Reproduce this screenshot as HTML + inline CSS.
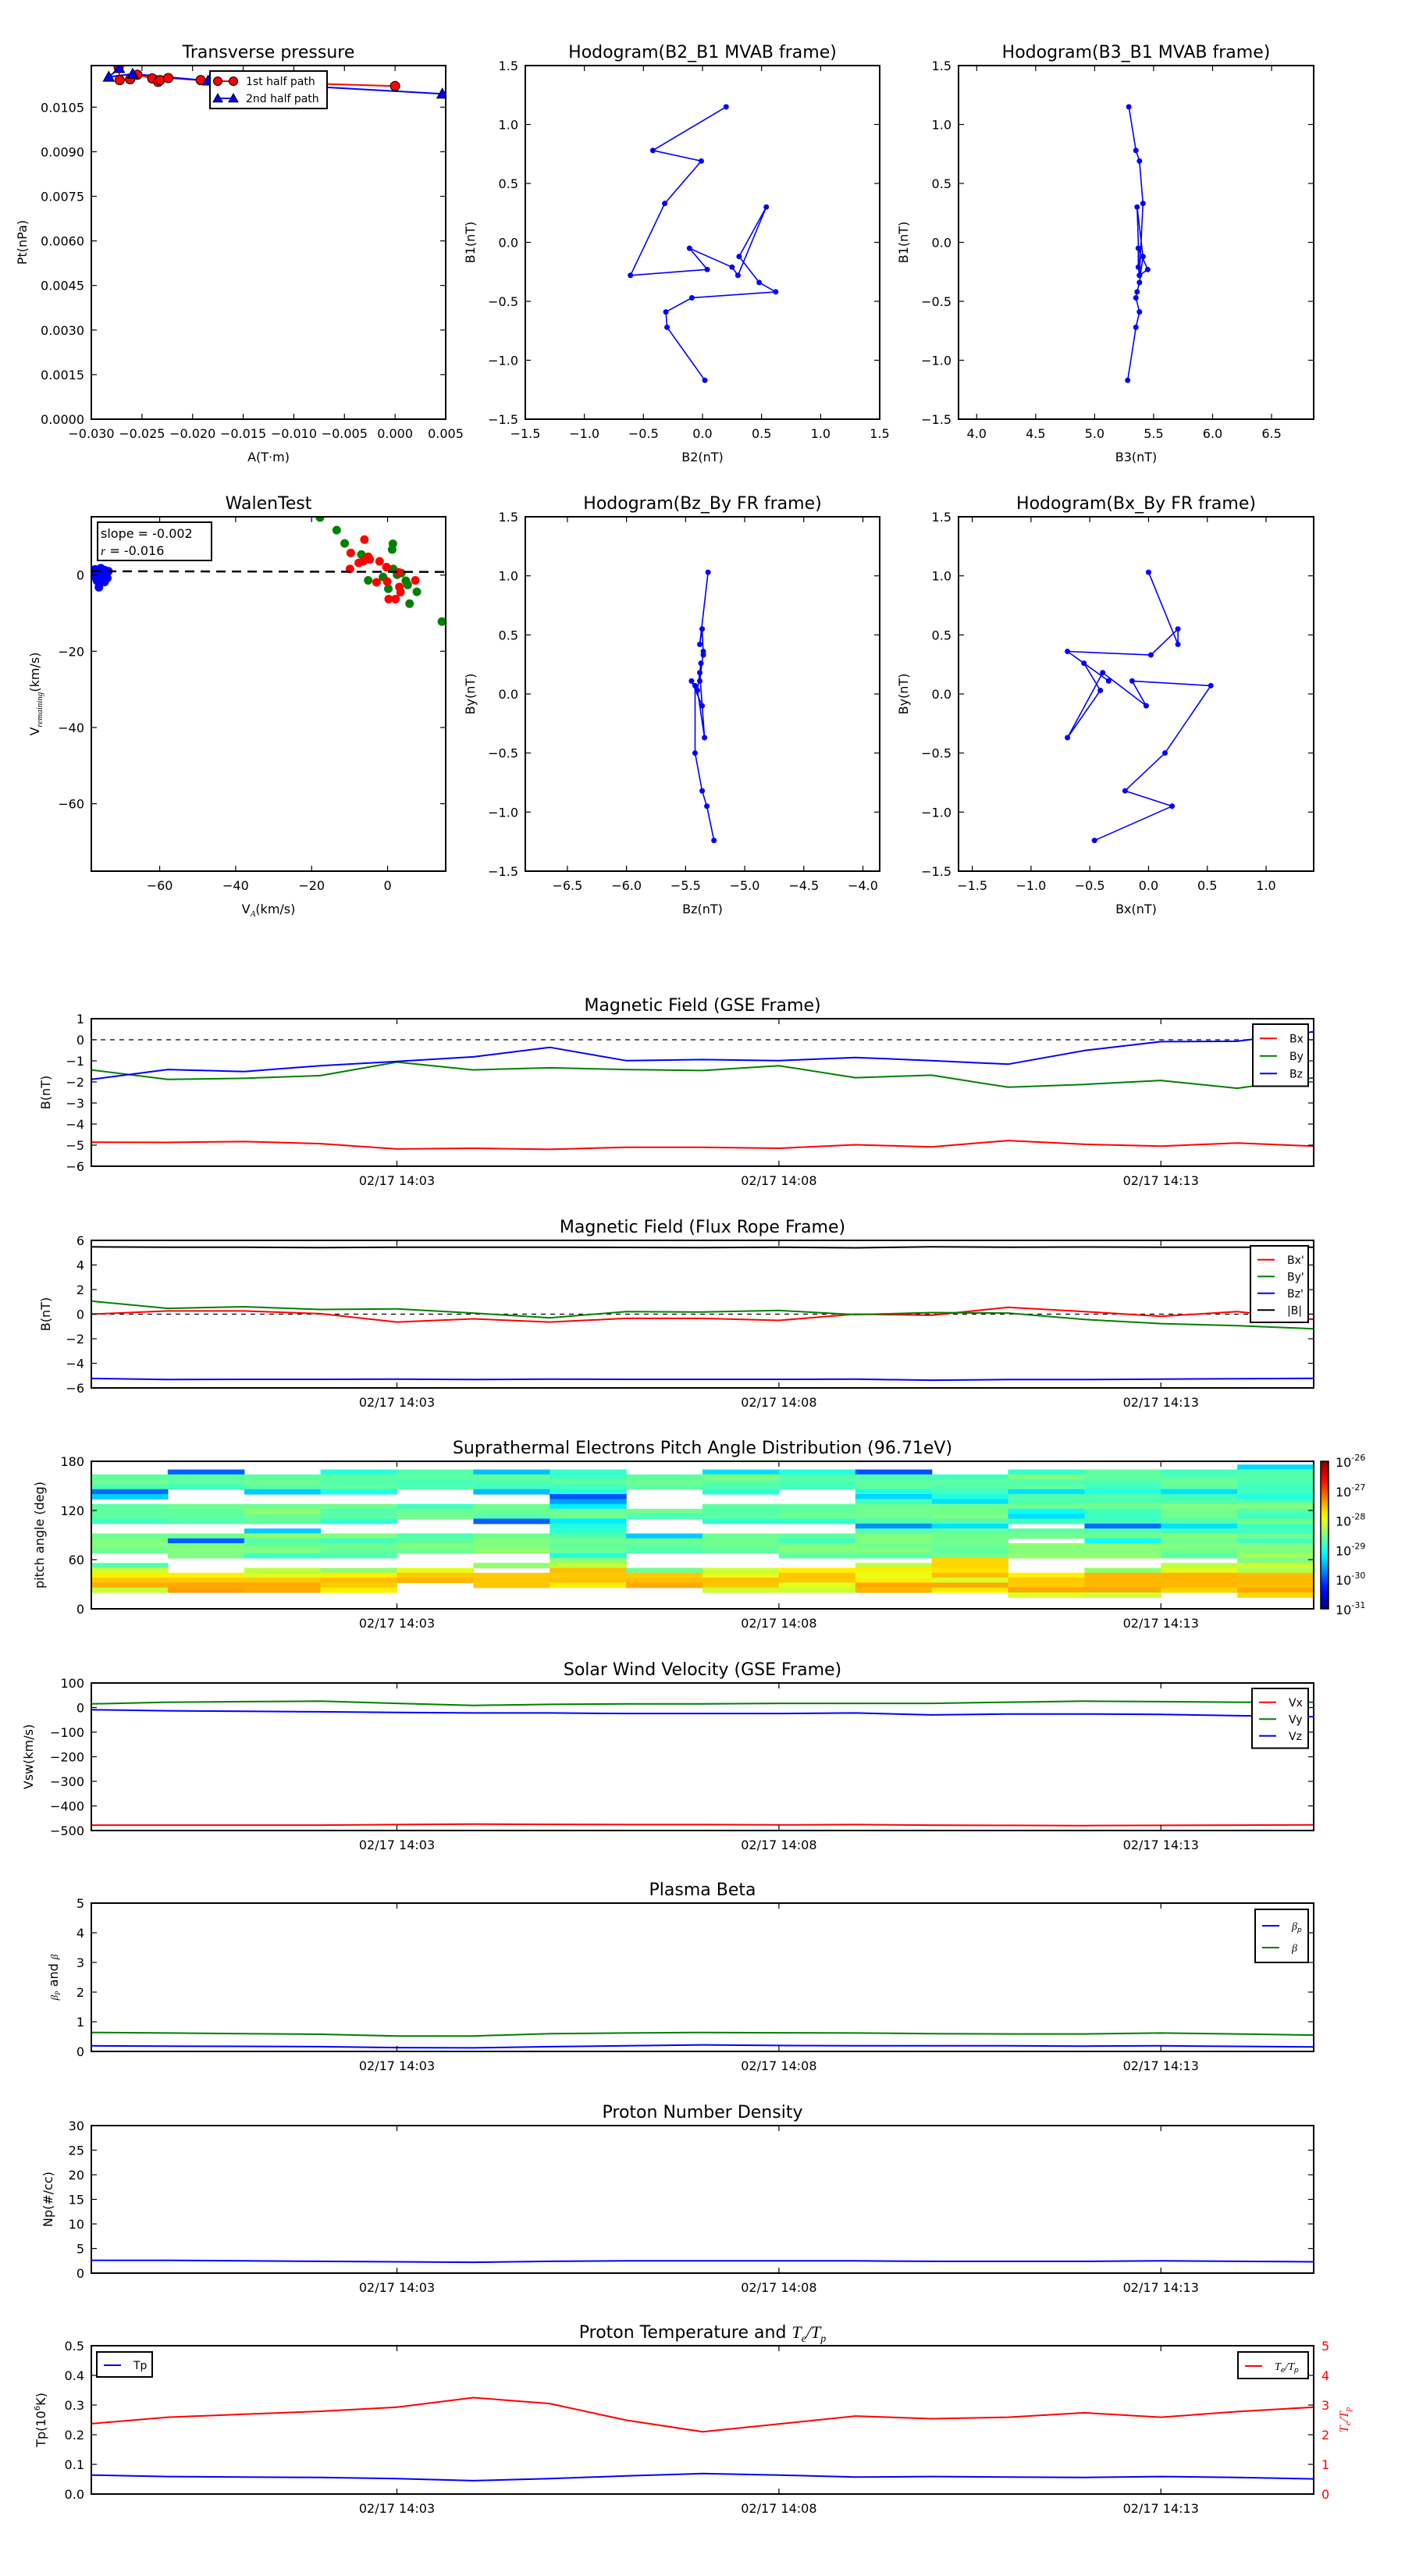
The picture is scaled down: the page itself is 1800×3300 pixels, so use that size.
<!DOCTYPE html>
<html><head><meta charset="utf-8"><title>Flux rope analysis</title>
<style>html,body{margin:0;padding:0;background:#fff}svg{display:block}</style></head>
<body>
<svg id="fig" xmlns="http://www.w3.org/2000/svg" width="1800" height="3300" viewBox="0 0 1800 3300" font-family="'DejaVu Sans', sans-serif">
<rect width="1800" height="3300" fill="#fff"/>
</svg>
<script>
// ---------- data ----------
const ptA1 = [-0.0273,-0.0272,-0.02617,-0.02545,-0.02399,-0.0234,-0.0232,-0.0224,-0.0192,0.0];
const ptP1 = [0.01185,0.01141,0.01144,0.01159,0.01147,0.01135,0.01141,0.01148,0.01141,0.01121];
const ptA2 = [-0.02725,-0.02828,-0.02591,-0.01846,0.00467];
const ptP2 = [0.01181,0.01152,0.01162,0.01139,0.01095];
const pXTicks = [-0.030,-0.025,-0.020,-0.015,-0.010,-0.005,0.000,0.005];
const pYTicks = [0.0000,0.0015,0.0030,0.0045,0.0060,0.0075,0.0090,0.0105];

const hB1 = [1.15,0.78,0.69,0.33,-0.28,-0.23,-0.05,-0.21,-0.28,0.3,-0.12,-0.34,-0.42,-0.47,-0.59,-0.72,-1.17];
const hB2 = [0.2,-0.42,-0.01,-0.32,-0.61,0.04,-0.11,0.25,0.3,0.54,0.31,0.48,0.62,-0.09,-0.31,-0.3,0.02];
const hB3 = [5.29,5.35,5.38,5.41,5.38,5.45,5.37,5.37,5.38,5.36,5.41,5.38,5.36,5.35,5.38,5.35,5.28];
const frBy = [1.03,0.42,0.55,0.33,0.36,0.11,0.26,0.03,-0.37,0.18,-0.1,0.11,0.07,-0.5,-0.82,-0.95,-1.24];
const frBx = [0,0.25,0.25,0.02,-0.69,-0.34,-0.55,-0.41,-0.69,-0.39,-0.02,-0.14,0.53,0.14,-0.2,0.2,-0.46];
const frBz = [-5.31,-5.38,-5.36,-5.35,-5.35,-5.38,-5.37,-5.40,-5.34,-5.38,-5.36,-5.45,-5.42,-5.42,-5.36,-5.32,-5.26];

const walRedX = [-9.7,-9.9,-7.6,-6.1,-6.4,-5.1,-4.7,-2.9,-2.1,-0.3,-0.1,0.3,2.1,2.9,3.1,3.4,7.3];
const walRedY = [5.8,1.6,3.2,9.3,3.6,4.8,4.1,-1.9,3.6,2.1,-1.7,-6.3,-6.3,0.7,-3.1,-4.5,-1.4];
const walGrnX = [-17.8,-13.4,-11.3,-6.9,-5.1,-1.2,0.2,1.2,1.4,1.5,2.5,3.6,4.8,5.3,5.8,7.7,14.3];
const walGrnY = [15.1,11.8,8.3,5.4,-1.4,-0.5,-3.6,6.7,8.2,1.6,0.1,0.5,-1.5,-2.6,-7.5,-4.4,-12.2];
const walBluX = [-77,-76,-75.5,-74.5,-73.5,-77,-76.5,-75.5,-74.5,-76,-75,-73.8,-76.8,-74];
const walBluY = [1.5,1.2,1.8,1.3,1.0,-0.5,-1.5,-0.5,-1.8,-3.2,0.2,-0.8,0.5,0.5];
const walenFit = [-0.002, 0.85];
const walTicks = [-60,-40,-20,0];

const timeTickIdx = [4,9,14];
const timeTickLabels = ['02/17 14:03','02/17 14:08','02/17 14:13'];

const gseBx = [-4.86,-4.87,-4.83,-4.93,-5.18,-5.15,-5.2,-5.1,-5.1,-5.15,-4.98,-5.08,-4.78,-4.96,-5.05,-4.9,-5.05];
const gseBy = [-1.43,-1.88,-1.83,-1.7,-1.06,-1.43,-1.33,-1.41,-1.46,-1.23,-1.8,-1.68,-2.25,-2.12,-1.93,-2.3,-1.8];
const gseBz = [-1.88,-1.41,-1.51,-1.23,-1.03,-0.81,-0.36,-0.99,-0.94,-0.99,-0.84,-0.99,-1.16,-0.51,-0.09,-0.07,0.38];

const fBx = [0,0.26,0.26,0.04,-0.64,-0.38,-0.64,-0.34,-0.34,-0.51,0,-0.09,0.55,0.21,-0.17,0.21,-0.43];
const fBy = [1.06,0.47,0.6,0.38,0.43,0.09,-0.3,0.21,0.17,0.3,-0.04,0.13,0.09,-0.43,-0.77,-0.94,-1.19];
const fBz = [-5.23,-5.32,-5.3,-5.3,-5.28,-5.32,-5.28,-5.3,-5.3,-5.3,-5.29,-5.37,-5.32,-5.32,-5.28,-5.25,-5.22];
const fBt = [5.47,5.45,5.44,5.41,5.45,5.45,5.44,5.43,5.41,5.44,5.40,5.48,5.45,5.46,5.45,5.45,5.45];

const padAngles = [173,167,161,155,149,143,137,131,125,119,113,107,101,95,89,83,77,71,65,59,53,47,41,35,29,23,17,11];
const N = null;
const padLog = [
[N,N,N,N,N,N,N,N,N,N,N,N,N,N,N,-29.3],
[N,-29.9,N,-28.97,-28.73,-29.44,-28.89,N,-29.27,-28.97,-29.98,N,-28.89,-28.66,-28.81,-28.73],
[-28.66,-28.66,-28.66,-28.66,-28.66,-28.66,-28.81,-28.66,-28.5,-28.73,-28.73,-28.81,-28.5,-28.66,-28.73,-28.73],
[-28.58,-28.66,-28.58,-28.73,-28.81,-28.73,-28.66,-28.58,-28.66,-28.73,-28.66,-28.66,-28.73,-28.73,-28.58,-28.73],
[-28.73,-28.81,-28.66,-28.66,-28.73,-28.81,-28.81,-28.66,-28.73,-28.81,-28.66,-28.73,-28.66,-28.81,-28.66,-28.81],
[-29.83,N,-29.37,-28.97,N,-29.44,-28.97,N,-28.89,N,-28.97,-28.81,-29.27,-28.97,-29.27,-28.81],
[-29.37,N,N,N,N,N,-29.98,N,N,N,-29.33,-28.97,-28.73,-28.73,-28.81,-28.97],
[N,N,N,N,N,N,-29.59,N,N,N,-28.81,-29.27,-28.73,-28.73,-28.73,-28.73],
[-28.66,-28.58,-28.58,-28.58,-28.81,-28.58,-29.2,N,-28.66,-28.66,-28.58,-28.58,-28.58,-28.58,-28.5,-28.5],
[-28.66,-28.66,-28.42,-28.73,-28.58,-28.58,-28.58,-28.58,-28.73,-28.66,-28.58,-28.58,-29.1,-28.81,-28.58,-28.73],
[-28.66,-28.66,-28.58,-28.66,-28.58,-28.73,-28.58,-28.73,-28.66,-28.58,-28.58,-28.5,-29.27,-28.81,-28.58,-28.81],
[-28.81,-28.73,-28.66,-28.89,N,-29.9,-29.2,N,-28.89,-28.89,-28.73,-28.73,-28.81,-28.81,-28.73,-28.58],
[N,N,N,N,N,N,-28.97,N,N,N,-29.67,-29.27,N,-29.83,-29.27,-28.81],
[N,N,-29.37,N,N,N,-28.89,N,N,N,-28.73,-28.66,-28.66,-28.73,-28.81,-28.81],
[-28.58,-28.58,-28.42,-28.5,-28.73,-28.58,-28.73,-29.37,-28.58,-28.66,-28.5,-28.58,-28.58,-28.58,-28.5,-28.58],
[-28.5,-29.9,-28.73,-28.81,-28.66,-28.5,-28.58,-28.58,-28.58,-28.81,-28.5,-28.58,N,-29.1,-28.58,-28.81],
[-28.5,-28.5,-28.58,-28.58,-28.5,-28.5,-28.66,-28.66,-28.58,-28.5,-28.58,-28.58,-28.42,-28.42,-28.5,-28.5],
[-28.58,-28.5,-28.5,-28.66,-28.58,-28.42,-28.58,-28.73,-28.66,-28.5,-28.5,-28.66,-28.5,-28.5,-28.58,-28.5],
[N,-28.5,-28.81,-28.73,N,N,-28.97,N,N,-28.66,-28.66,-28.58,-28.42,-28.42,-28.66,-28.34],
[N,N,N,N,N,N,-28.42,N,N,N,N,-27.67,N,N,N,-28.5],
[-28.73,N,N,N,N,-28.42,-28.19,N,N,N,-28.19,-27.67,N,N,-28.19,-28.11],
[-28.11,N,-28.19,-28.42,-28.0,N,-27.56,-28.58,-28.11,-27.8,-27.8,-27.73,N,-28.42,-28.03,-28.27],
[-27.8,-27.8,-28.05,-27.8,-27.62,-27.62,-27.62,-27.62,-28.0,-27.6,-28.0,-27.56,-27.8,-27.52,-27.52,-27.56],
[-27.6,-27.6,-27.6,-27.56,-27.52,-27.6,-27.56,-27.56,-27.56,-27.6,-27.8,-28.05,-27.6,-27.52,-27.52,-27.52],
[-27.48,-27.45,-27.45,-27.62,N,-27.6,-27.8,-27.45,-27.6,-28.0,-27.45,-27.45,-27.62,-27.52,-27.52,-27.56],
[-28.15,-27.41,-27.48,-27.8,N,N,N,N,-28.11,-28.11,-27.52,-27.8,-27.45,-27.45,-27.67,-27.45],
[N,N,N,N,N,N,N,N,N,N,N,N,-28.03,-28.11,N,-27.67],
[N,N,N,N,N,N,N,N,N,N,N,N,N,N,N,N]
];
const cbarExps = [-31,-30,-29,-28,-27,-26];

const swVx = [-478,-478,-478,-478,-476,-474,-475,-476,-476,-477,-476,-478,-479,-480,-479,-478,-477];
const swVy = [15,22,24,26,17,9,13,15,15,17,17,17,22,26,24,22,22];
const swVz = [-9,-13,-15,-17,-20,-22,-22,-24,-24,-24,-22,-30,-26,-26,-28,-33,-37];

const betaP = [0.19,0.18,0.17,0.16,0.13,0.12,0.16,0.19,0.22,0.2,0.19,0.19,0.19,0.18,0.19,0.17,0.15];
const betaT = [0.64,0.62,0.6,0.58,0.52,0.52,0.6,0.62,0.64,0.63,0.62,0.6,0.59,0.59,0.62,0.59,0.55];

const npVals = [2.6,2.6,2.5,2.4,2.3,2.2,2.4,2.5,2.5,2.5,2.5,2.4,2.4,2.4,2.5,2.4,2.3];

const tpVals = [0.064,0.059,0.057,0.056,0.052,0.045,0.052,0.061,0.069,0.064,0.057,0.059,0.057,0.056,0.059,0.056,0.051];
const teTp = [2.37,2.59,2.69,2.79,2.93,3.25,3.05,2.49,2.1,2.36,2.63,2.54,2.59,2.74,2.59,2.78,2.93];

// ---------- helpers ----------
const NS = 'http://www.w3.org/2000/svg';
const svg = document.getElementById('fig');
function el(tag, attrs, parent){
  const e = document.createElementNS(NS, tag);
  for (const k in attrs) e.setAttribute(k, attrs[k]);
  (parent || svg).appendChild(e);
  return e;
}
function nm(e, name, inter){
  
  
  return e;
}
function fmt(v, d){ const s = Math.abs(v).toFixed(d); return (v < 0 && parseFloat(s) !== 0 ? '\u2212' : '') + s; }
let clipId = 0;

function makeAxes(name, box, xr, yr, o){
  const g = el('g', {});
  nm(g, name + '-panel', false);
  const sx = v => box.l + (v - xr[0]) / (xr[1] - xr[0]) * (box.r - box.l);
  const sy = v => box.b - (v - yr[0]) / (yr[1] - yr[0]) * (box.b - box.t);
  const id = 'clip' + (clipId++);
  const cp = el('clipPath', {id: id}, g);
  el('rect', {x: box.l, y: box.t, width: box.r - box.l, height: box.b - box.t}, cp);
  const data = el('g', {'clip-path': 'url(#' + id + ')'}, g);
  nm(data, name + '-plot-area', false);
  const ax = {g, data, sx, sy, box};
  // x ticks
  const xg = el('g', {}, g);
  nm(xg, name + '-x-axis', false);
  (o.xticks || []).forEach((v, i) => {
    const x = sx(v);
    el('line', {x1: x, x2: x, y1: box.b, y2: box.b - 7, stroke: '#000', 'stroke-width': 1.2}, xg);
    el('line', {x1: x, x2: x, y1: box.t, y2: box.t + 7, stroke: '#000', 'stroke-width': 1.2}, xg);
    const t = el('text', {x: x, y: box.b + 24, 'font-size': 16, 'text-anchor': 'middle', fill: '#000'}, xg);
    t.textContent = o.xlabels ? o.xlabels[i] : v;
    nm(t, name + '-x-tick-label', false);
  });
  const yg = el('g', {}, g);
  nm(yg, name + '-y-axis', false);
  (o.yticks || []).forEach((v, i) => {
    const y = sy(v);
    el('line', {x1: box.l, x2: box.l + 7, y1: y, y2: y, stroke: '#000', 'stroke-width': 1.2}, yg);
    if (!o.noRightTicks) el('line', {x1: box.r, x2: box.r - 7, y1: y, y2: y, stroke: '#000', 'stroke-width': 1.2}, yg);
    const t = el('text', {x: box.l - 9, y: y + 6, 'font-size': 16, 'text-anchor': 'end', fill: '#000'}, yg);
    t.textContent = o.ylabels ? o.ylabels[i] : v;
    nm(t, name + '-y-tick-label', false);
  });
  if (o.title){
    const t = el('text', {x: (box.l + box.r) / 2, y: box.t - 10, 'font-size': 22, 'text-anchor': 'middle'}, g);
    if (o.titleHTML) t.innerHTML = o.titleHTML; else t.textContent = o.title;
    nm(t, name + '-title', false);
  }
  if (o.xlabel){
    const t = el('text', {x: (box.l + box.r) / 2, y: box.b + 54, 'font-size': 16, 'text-anchor': 'middle'}, g);
    if (o.xlabelHTML) t.innerHTML = o.xlabelHTML; else t.textContent = o.xlabel;
    nm(t, name + '-x-axis-title', false);
  }
  if (o.ylabel){
    const cx = o.ylabelX, cy = (box.t + box.b) / 2;
    const t = el('text', {x: cx, y: cy, 'font-size': 16, 'text-anchor': 'middle', transform: 'rotate(-90 ' + cx + ' ' + cy + ')'}, g);
    if (o.ylabelHTML) t.innerHTML = o.ylabelHTML; else t.textContent = o.ylabel;
    nm(t, name + '-y-axis-title', false);
  }
  ax.frame = () => {
    const f = el('rect', {x: box.l, y: box.t, width: box.r - box.l, height: box.b - box.t, fill: 'none', stroke: '#000', 'stroke-width': 2}, g);
    nm(f, name + '-frame', false);
  };
  return ax;
}
function polyline(ax, xs, ys, color, name, w){
  const pts = xs.map((x, i) => ax.sx(x).toFixed(1) + ',' + ax.sy(ys[i]).toFixed(1)).join(' ');
  const p = el('polyline', {points: pts, fill: 'none', stroke: color, 'stroke-width': w || 2, 'stroke-linejoin': 'round'}, ax.data);
  nm(p, name, false);
  return p;
}
function dots(ax, xs, ys, color, r, name, stroke){
  xs.forEach((x, i) => {
    const c = el('circle', {cx: ax.sx(x), cy: ax.sy(ys[i]), r: r, fill: color, stroke: stroke || 'none', 'stroke-width': stroke ? 1 : 0}, ax.data);
    nm(c, name, false);
  });
}
function tri(parent, x, y, s, name){
  const p = el('polygon', {points: (x) + ',' + (y - s) + ' ' + (x - s) + ',' + (y + s * 0.8) + ' ' + (x + s) + ',' + (y + s * 0.8), fill: '#0000ff', stroke: '#000', 'stroke-width': 1}, parent);
  nm(p, name, false);
}
function hline(ax, v, name){
  const y = ax.sy(v);
  const l = el('line', {x1: ax.box.l, x2: ax.box.r, y1: y, y2: y, stroke: '#000', 'stroke-width': 1.2, 'stroke-dasharray': '6,6'}, ax.data);
  nm(l, name, false);
}
function legend(name, x, y, w, entries, dy){
  const g = el('g', {});
  nm(g, name, false);
  const h = entries.length * dy + 12;
  el('rect', {x: x, y: y, width: w, height: h, fill: '#fff', stroke: '#000', 'stroke-width': 2}, g);
  entries.forEach((e, i) => {
    const yy = y + 13 + dy * i + dy / 2 - 6;
    el('line', {x1: x + 9, x2: x + 31, y1: yy, y2: yy, stroke: e.c, 'stroke-width': 2}, g);
    const t = el('text', {x: x + 47, y: yy + 5, 'font-size': 14}, g);
    if (e.html) t.innerHTML = e.html; else t.textContent = e.t;
    nm(t, 'legend-entry-' + i, false);
  });
  return g;
}
function jet(v){
  const t = Math.max(0, Math.min(1, (v + 31) / 5));
  const c = x => Math.round(255 * Math.max(0, Math.min(1, x)));
  return 'rgb(' + c(1.5 - Math.abs(4 * t - 3)) + ',' + c(1.5 - Math.abs(4 * t - 2)) + ',' + c(1.5 - Math.abs(4 * t - 1)) + ')';
}
const hodoTicks = [-1.5,-1.0,-0.5,0.0,0.5,1.0,1.5];
const hodoLab = hodoTicks.map(v => fmt(v, 1));
const idx = gseBx.map((_, i) => i);

// ---------- Transverse pressure ----------
(function(){
  const ax = makeAxes('pressure', {l:117,t:84,r:571,b:537}, [-0.030,0.005], [0,0.0119],
    {xticks: pXTicks, xlabels: pXTicks.map(v => fmt(v,3)), yticks: pYTicks, ylabels: pYTicks.map(v => v.toFixed(4)),
     title: 'Transverse pressure', xlabel: 'A(T\u00b7m)', ylabel: 'Pt(nPa)', ylabelX: 34});
  polyline(ax, ptA1, ptP1, '#ff0000', 'first-half-line', 2);
  polyline(ax, ptA2, ptP2, '#0000ff', 'second-half-line', 2);
  dots(ax, ptA1, ptP1, '#ff0000', 6, 'first-half-marker', '#000');
  ptA2.forEach((a, i) => tri(ax.data, ax.sx(a), ax.sy(ptP2[i]), 7, 'second-half-marker'));
  ax.frame();
  const g = el('g', {});
  nm(g, 'pressure-legend', false);
  el('rect', {x: 269, y: 91, width: 150, height: 48, fill: '#fff', stroke: '#000', 'stroke-width': 2}, g);
  el('line', {x1: 279, x2: 299, y1: 104, y2: 104, stroke: '#ff0000', 'stroke-width': 2}, g);
  el('circle', {cx: 279, cy: 104, r: 5.5, fill: '#ff0000', stroke: '#000'}, g);
  el('circle', {cx: 299, cy: 104, r: 5.5, fill: '#ff0000', stroke: '#000'}, g);
  const t1 = el('text', {x: 315, y: 109, 'font-size': 14}, g); t1.textContent = '1st half path';
  nm(t1, 'legend-entry-1st', false);
  el('line', {x1: 279, x2: 299, y1: 126, y2: 126, stroke: '#0000ff', 'stroke-width': 2}, g);
  tri(g, 279, 126, 6, 'legend-triangle'); tri(g, 299, 126, 6, 'legend-triangle');
  const t2 = el('text', {x: 315, y: 131, 'font-size': 14}, g); t2.textContent = '2nd half path';
  nm(t2, 'legend-entry-2nd', false);
})();

// ---------- Hodograms ----------
function hodo(name, box, xr, xt, xs, ys, title, xl, yl, ylx){
  const ax = makeAxes(name, box, xr, [-1.5,1.5], {xticks: xt, xlabels: xt.map(v => fmt(v,1)), yticks: hodoTicks, ylabels: hodoLab,
    title: title, xlabel: xl, ylabel: yl, ylabelX: ylx});
  polyline(ax, xs, ys, '#0000ff', name + '-path', 1.6);
  dots(ax, xs, ys, '#0000ff', 3.5, name + '-point');
  ax.frame();
}
hodo('hodo-b2b1', {l:673,t:84,r:1127,b:537}, [-1.5,1.5], hodoTicks, hB2, hB1, 'Hodogram(B2_B1 MVAB frame)', 'B2(nT)', 'B1(nT)', 608);
hodo('hodo-b3b1', {l:1228,t:84,r:1683,b:537}, [3.846,6.857], [4.0,4.5,5.0,5.5,6.0,6.5], hB3, hB1, 'Hodogram(B3_B1 MVAB frame)', 'B3(nT)', 'B1(nT)', 1163);
hodo('hodo-bzby', {l:673,t:662,r:1127,b:1116}, [-6.856,-3.858], [-6.5,-6.0,-5.5,-5.0,-4.5,-4.0], frBz, frBy, 'Hodogram(Bz_By FR frame)', 'Bz(nT)', 'By(nT)', 608);
hodo('hodo-bxby', {l:1228,t:662,r:1683,b:1116}, [-1.617,1.405], [-1.5,-1.0,-0.5,0.0,0.5,1.0], frBx, frBy, 'Hodogram(Bx_By FR frame)', 'Bx(nT)', 'By(nT)', 1163);

// ---------- Walen test ----------
(function(){
  const ax = makeAxes('walen', {l:117,t:662,r:571,b:1116}, [-78,15.3], [-77.7,15.3],
    {xticks: walTicks, xlabels: walTicks.map(v => fmt(v,0)), yticks: walTicks, ylabels: walTicks.map(v => fmt(v,0)),
     title: 'WalenTest', xlabel: 'VA(km/s)', xlabelHTML: 'V<tspan font-size="11" dy="4" font-style="italic" font-family="Liberation Serif, serif">A</tspan><tspan dy="-4">(km/s)</tspan>',
     ylabel: 'Vremaining(km/s)', ylabelHTML: 'V<tspan font-size="11" dy="4" font-style="italic" font-family="Liberation Serif, serif">remaining</tspan><tspan dy="-4">(km/s)</tspan>', ylabelX: 50});
  dots(ax, walBluX, walBluY, '#0000ff', 5.5, 'walen-blue-point');
  dots(ax, walGrnX, walGrnY, '#008000', 5.5, 'walen-green-point');
  dots(ax, walRedX, walRedY, '#ff0000', 5.5, 'walen-red-point');
  const x0 = -78, x1 = 15.3;
  const fl = el('line', {x1: ax.sx(x0), y1: ax.sy(walenFit[0]*x0 + walenFit[1]), x2: ax.sx(x1), y2: ax.sy(walenFit[0]*x1 + walenFit[1]), stroke: '#000', 'stroke-width': 2.5, 'stroke-dasharray': '12,8'}, ax.data);
  nm(fl, 'walen-fit-line', false);
  ax.frame();
  const g = el('g', {});
  nm(g, 'walen-stats-box', false);
  el('rect', {x: 125, y: 669, width: 146, height: 49, fill: '#fff', stroke: '#000', 'stroke-width': 2}, g);
  const t1 = el('text', {x: 129, y: 689, 'font-size': 16}, g); t1.textContent = 'slope = -0.002';
  nm(t1, 'slope-text', false);
  const t2 = el('text', {x: 129, y: 711, 'font-size': 16}, g);
  t2.innerHTML = '<tspan font-style="italic" font-family="Liberation Serif, serif">r</tspan> = -0.016';
  nm(t2, 'r-text', false);
})();

// ---------- time series ----------
function ts(name, top, bot, yr, yt, title, ylab, ylx, o){
  o = o || {};
  return makeAxes(name, {l:117,t:top,r:1683,b:bot}, [0,16], yr, Object.assign({xticks: timeTickIdx, xlabels: timeTickLabels, yticks: yt,
    ylabels: o.ylabels || yt.map(v => fmt(v, o.dec || 0)), title: title, ylabel: ylab, ylabelX: ylx}, o));
}
(function(){
  const ax = ts('mag-gse', 1305, 1494, [-6,1], [-6,-5,-4,-3,-2,-1,0,1], 'Magnetic Field (GSE Frame)', 'B(nT)', 64);
  hline(ax, 0, 'zero-line');
  polyline(ax, idx, gseBx, '#ff0000', 'bx-line');
  polyline(ax, idx, gseBy, '#008000', 'by-line');
  polyline(ax, idx, gseBz, '#0000ff', 'bz-line');
  ax.frame();
  legend('gse-legend', 1605, 1312, 71, [{c:'#ff0000',t:'Bx'},{c:'#008000',t:'By'},{c:'#0000ff',t:'Bz'}], 22.5);
})();
(function(){
  const ax = ts('mag-fr', 1589, 1778, [-6,6], [-6,-4,-2,0,2,4,6], 'Magnetic Field (Flux Rope Frame)', 'B(nT)', 64);
  hline(ax, 0, 'zero-line');
  polyline(ax, idx, fBx, '#ff0000', 'bx-prime-line');
  polyline(ax, idx, fBy, '#008000', 'by-prime-line');
  polyline(ax, idx, fBz, '#0000ff', 'bz-prime-line');
  polyline(ax, idx, fBt, '#000000', 'b-total-line');
  ax.frame();
  legend('fr-legend', 1602, 1596, 74, [{c:'#ff0000',t:"Bx'"},{c:'#008000',t:"By'"},{c:'#0000ff',t:"Bz'"},{c:'#000',t:'|B|'}], 21.5);
})();
(function(){
  const ax = makeAxes('pad', {l:117,t:1872,r:1683,b:2061}, [0,16], [0,180],
    {xticks: timeTickIdx, xlabels: timeTickLabels, yticks: [0,60,120,180], title: 'Suprathermal Electrons Pitch Angle Distribution (96.71eV)', ylabel: 'pitch angle (deg)', ylabelX: 56});
  padLog.forEach((row, r) => {
    row.forEach((v, c) => {
      if (v === null) return;
      const a = padAngles[r];
      const x0 = ax.sx(c), x1 = ax.sx(c + 1), y0 = ax.sy(a + 3), y1 = ax.sy(a - 3);
      const rc = el('rect', {x: x0.toFixed(1), y: y0.toFixed(1), width: (x1 - x0 + 0.6).toFixed(1), height: (y1 - y0 + 0.6).toFixed(1), fill: jet(v)}, ax.data);
      nm(rc, 'pad-cell', false);
    });
  });
  ax.frame();
  const g = el('g', {});
  nm(g, 'pad-colorbar', false);
  const defs = el('defs', {}, g);
  const lg = el('linearGradient', {id: 'jetgrad', x1: 0, y1: 1, x2: 0, y2: 0}, defs);
  for (let k = 0; k <= 20; k++){ el('stop', {offset: (k/20), 'stop-color': jet(-31 + 5*k/20)}, lg); }
  el('rect', {x: 1692, y: 1872, width: 10, height: 189, fill: 'url(#jetgrad)', stroke: '#000', 'stroke-width': 1.5}, g);
  cbarExps.forEach((e, i) => {
    const y = 2061 - (e + 31) / 5 * 189;
    const t = el('text', {x: 1711, y: y + 7, 'font-size': 16}, g);
    t.innerHTML = '10<tspan dy="-8" font-size="11">' + e + '</tspan>';
    nm(t, 'colorbar-tick-label', false);
  });
})();
(function(){
  const yt = [-500,-400,-300,-200,-100,0,100];
  const ax = ts('sw-vel', 2156, 2345, [-500,100], yt, 'Solar Wind Velocity (GSE Frame)', 'Vsw(km/s)', 42);
  polyline(ax, idx, swVx, '#ff0000', 'vx-line');
  polyline(ax, idx, swVy, '#008000', 'vy-line');
  polyline(ax, idx, swVz, '#0000ff', 'vz-line');
  ax.frame();
  legend('sw-legend', 1604, 2163, 72, [{c:'#ff0000',t:'Vx'},{c:'#008000',t:'Vy'},{c:'#0000ff',t:'Vz'}], 21.5);
})();
(function(){
  const ax = ts('beta', 2438, 2628, [0,5], [0,1,2,3,4,5], 'Plasma Beta', 'beta', 74,
    {ylabelHTML: '<tspan font-style="italic" font-family="Liberation Serif, serif" font-size="13">\u03b2</tspan><tspan font-style="italic" font-family="Liberation Serif, serif" font-size="9" dy="3">P</tspan><tspan dy="-3"> and </tspan><tspan font-style="italic" font-family="Liberation Serif, serif" font-size="13">\u03b2</tspan>'});
  polyline(ax, idx, betaP, '#0000ff', 'beta-p-line');
  polyline(ax, idx, betaT, '#008000', 'beta-line');
  ax.frame();
  legend('beta-legend', 1608, 2446, 68, [{c:'#0000ff',html:'<tspan font-style="italic" font-family="Liberation Serif, serif">\u03b2</tspan><tspan font-size="9" dy="3" font-style="italic">p</tspan>'},{c:'#008000',html:'<tspan font-style="italic" font-family="Liberation Serif, serif">\u03b2</tspan>'}], 28);
})();
(function(){
  const ax = ts('np', 2723, 2912, [0,30], [0,5,10,15,20,25,30], 'Proton Number Density', 'Np(#/cc)', 67);
  polyline(ax, idx, npVals, '#0000ff', 'np-line');
  ax.frame();
})();
(function(){
  const yt = [0,0.1,0.2,0.3,0.4,0.5];
  const ax = ts('temp', 3005, 3195, [0,0.5], yt, 'Proton Temperature and Te/Tp', 'Tp', 58,
    {dec: 1, noRightTicks: true,
     titleHTML: 'Proton Temperature and <tspan font-style="italic" font-family="Liberation Serif, serif">T</tspan><tspan font-style="italic" font-family="Liberation Serif, serif" font-size="14" dy="5">e</tspan><tspan font-style="italic" font-family="Liberation Serif, serif" dy="-5">/T</tspan><tspan font-style="italic" font-family="Liberation Serif, serif" font-size="14" dy="5">p</tspan>',
     ylabelHTML: 'Tp(10<tspan font-size="10" dy="-7">6</tspan><tspan dy="7">K)</tspan>'});
  const sy2 = v => 3195 - v / 5 * 190;
  const pts = teTp.map((v, i) => ax.sx(i).toFixed(1) + ',' + sy2(v).toFixed(1)).join(' ');
  const p = el('polyline', {points: pts, fill: 'none', stroke: '#ff0000', 'stroke-width': 2}, ax.data);
  nm(p, 'te-tp-line', false);
  polyline(ax, idx, tpVals, '#0000ff', 'tp-line');
  const rg = el('g', {});
  nm(rg, 'temp-right-axis', false);
  [0,1,2,3,4,5].forEach(v => {
    const y = sy2(v);
    el('line', {x1: 1683, x2: 1676, y1: y, y2: y, stroke: '#000', 'stroke-width': 1.2}, rg);
    const t = el('text', {x: 1693, y: y + 6, 'font-size': 16, fill: '#ff0000'}, rg);
    t.textContent = v;
    nm(t, 'right-tick-label', false);
  });
  const rl = el('text', {x: 1727, y: 3100, 'font-size': 16, fill: '#ff0000', 'text-anchor': 'middle', 'font-style': 'italic', 'font-family': 'Liberation Serif, serif', transform: 'rotate(-90 1727 3100)'}, rg);
  rl.innerHTML = 'T<tspan font-size="11" dy="3">e</tspan><tspan dy="-3">/T</tspan><tspan font-size="11" dy="3">p</tspan>';
  nm(rl, 'right-axis-title', false);
  ax.frame();
  legend('tp-legend', 124, 3013, 71, [{c:'#0000ff',t:'Tp'}], 20);
  legend('tetp-legend', 1586, 3013, 90, [{c:'#ff0000',html:'<tspan font-style="italic" font-family="Liberation Serif, serif">T</tspan><tspan font-size="9" dy="3" font-style="italic">e</tspan><tspan dy="-3" font-style="italic" font-family="Liberation Serif, serif">/T</tspan><tspan font-size="9" dy="3" font-style="italic">p</tspan>'}], 22);
})();
</script>
</body></html>
